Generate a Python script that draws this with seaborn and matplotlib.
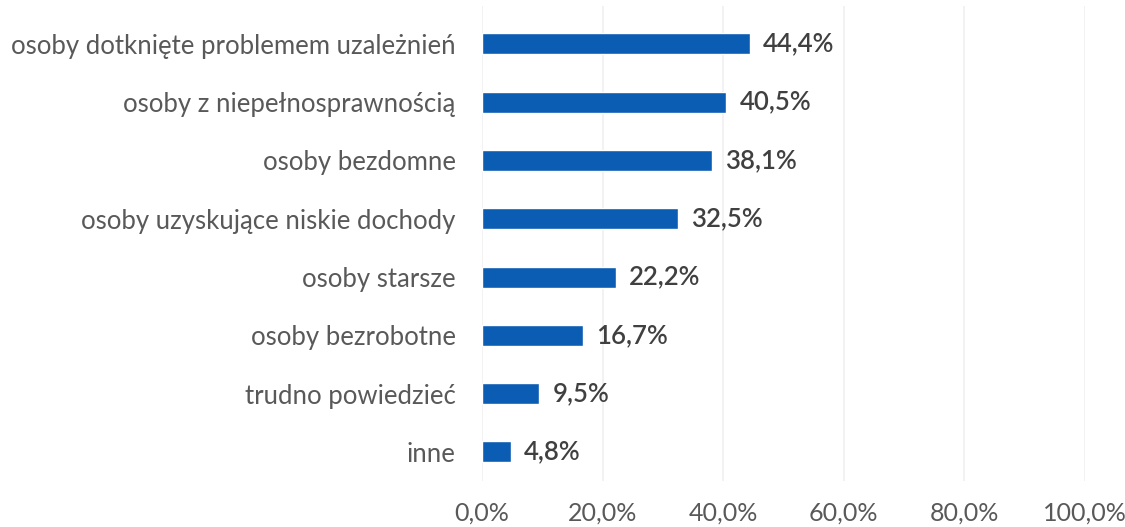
import matplotlib
matplotlib.use("Agg")
import matplotlib.pyplot as plt
import seaborn as sns
import pandas as pd

categories = [
    "osoby dotknięte problemem uzależnień",
    "osoby z niepełnosprawnością",
    "osoby bezdomne",
    "osoby uzyskujące niskie dochody",
    "osoby starsze",
    "osoby bezrobotne",
    "trudno powiedzieć",
    "inne",
]
values = [44.4, 40.5, 38.1, 32.5, 22.2, 16.7, 9.5, 4.8]
x_ticks = [0, 20, 40, 60, 80, 100]

sns.set_theme(style="white")
plt.rcParams["font.family"] = ["Lato", "DejaVu Sans"]

df = pd.DataFrame({"kategoria": categories, "udzial": values})

fig = plt.figure(figsize=(11.25, 5.27), dpi=100)
ax = fig.add_axes([482 / 1125, 1 - 481 / 527, 603 / 1125, 475 / 527])

sns.barplot(data=df, x="udzial", y="kategoria", orient="h", color="#0b5cb3",
            saturation=1, width=0.36, ax=ax)

ax.set_xlim(0, 100)
ax.set_ylim(7.5, -0.65)
ax.set_xticks(x_ticks)
ax.set_xticklabels([f"{t:.1f}%".replace(".", ",") for t in x_ticks],
                   color="#595959", fontsize=18)
ax.tick_params(axis="x", length=0, pad=15)
ax.tick_params(axis="y", length=0, pad=19, labelsize=18.5, labelcolor="#595959")
ax.set_xlabel("")
ax.set_ylabel("")
for s in ax.spines.values():
    s.set_visible(False)
ax.xaxis.grid(True, color="#f0f0f0", linewidth=1.2)
ax.set_axisbelow(True)

for i, v in enumerate(values):
    ax.text(v + 2.2, i, f"{v:.1f}%".replace(".", ","), va="center", ha="left",
            fontsize=18.5, color="#404040", fontweight="semibold")

fig.savefig("out.png", dpi=100)
